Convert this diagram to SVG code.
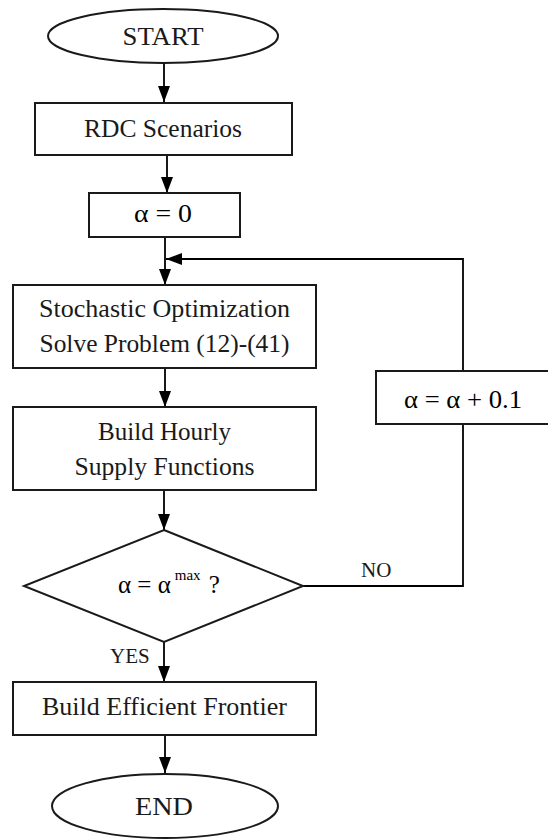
<svg xmlns="http://www.w3.org/2000/svg" width="548" height="840" viewBox="0 0 548 840">
<defs>
<marker id="arr" markerUnits="userSpaceOnUse" markerWidth="16" markerHeight="12" refX="16" refY="6" orient="auto">
<path d="M0,0 L16,6 L0,12 z" fill="#000"/>
</marker>
<style>
.shape{fill:#fff;stroke:#1a1a1a;stroke-width:2}
.edge{fill:none;stroke:#000;stroke-width:1.8}
text{font-family:'Liberation Serif','DejaVu Serif','Times New Roman',serif}
.t{font-size:25px;fill:#1a1a1a;text-anchor:middle}
.m{font-size:25px;fill:#000;text-anchor:middle}
.lbl{font-size:21px;fill:#1a1a1a}
</style>
</defs>
<rect width="548" height="840" fill="#fff"/>
<g id="connectors">
<line class="edge" x1="164" y1="63" x2="164" y2="102" marker-end="url(#arr)"/>
<line class="edge" x1="167" y1="155" x2="167" y2="193" marker-end="url(#arr)"/>
<line class="edge" x1="165" y1="237" x2="165" y2="285" marker-end="url(#arr)"/>
<line class="edge" x1="165" y1="368" x2="165" y2="407" marker-end="url(#arr)"/>
<line class="edge" x1="164" y1="490" x2="164" y2="530" marker-end="url(#arr)"/>
<line class="edge" x1="164" y1="642" x2="164" y2="682" marker-end="url(#arr)"/>
<line class="edge" x1="165" y1="735" x2="165" y2="773" marker-end="url(#arr)"/>
<polyline class="edge" points="303,586 463,586 463,424"/>
<polyline class="edge" points="463,371 463,259 166,259" marker-end="url(#arr)"/>
<text class="lbl" x="361" y="577" font-family="Liberation Serif, serif">NO</text>
<text class="lbl" x="110" y="663" font-family="Liberation Serif, serif">YES</text>
</g>
<g id="start">
<ellipse class="shape" cx="163" cy="36" rx="115" ry="27"/>
<text class="t" x="163" y="45" font-family="Liberation Serif, serif" textLength="81" lengthAdjust="spacingAndGlyphs">START</text>
</g>
<g id="rdc">
<rect class="shape" x="35" y="103" width="257" height="52"/>
<text class="t" x="163" y="137" font-family="Liberation Serif, serif" textLength="158" lengthAdjust="spacingAndGlyphs">RDC Scenarios</text>
</g>
<g id="alpha0">
<rect class="shape" x="89" y="193" width="151" height="44"/>
<text class="m" x="163" y="222" font-family="Liberation Serif, serif" textLength="58" lengthAdjust="spacingAndGlyphs">α = 0</text>
</g>
<g id="stochastic">
<rect class="shape" x="13" y="285" width="303" height="83"/>
<text class="t" x="164.5" y="317" font-family="Liberation Serif, serif" textLength="251" lengthAdjust="spacingAndGlyphs">Stochastic Optimization</text>
<text class="t" x="164.5" y="352" font-family="Liberation Serif, serif" textLength="250" lengthAdjust="spacingAndGlyphs">Solve Problem (12)-(41)</text>
</g>
<g id="hourly">
<rect class="shape" x="13" y="407" width="303" height="83"/>
<text class="t" x="164.5" y="440" font-family="Liberation Serif, serif" textLength="133" lengthAdjust="spacingAndGlyphs">Build Hourly</text>
<text class="t" x="164.5" y="475" font-family="Liberation Serif, serif" textLength="180" lengthAdjust="spacingAndGlyphs">Supply Functions</text>
</g>
<g id="decision">
<polygon class="shape" points="164,530 303,586 164,642 24,586"/>
<text class="m" x="118" y="593" font-family="Liberation Serif, serif" style="text-anchor:start">α = α<tspan font-size="15" dy="-13" dx="4">max</tspan><tspan dy="13" dx="8">?</tspan></text>
</g>
<g id="increment">
<rect class="shape" x="376" y="371" width="175" height="53"/>
<text class="m" x="463" y="408" font-family="Liberation Serif, serif" textLength="118" lengthAdjust="spacingAndGlyphs">α = α + 0.1</text>
</g>
<g id="frontier">
<rect class="shape" x="13" y="682" width="303" height="53"/>
<text class="t" x="164.5" y="715" font-family="Liberation Serif, serif" textLength="245" lengthAdjust="spacingAndGlyphs">Build Efficient Frontier</text>
</g>
<g id="end">
<ellipse class="shape" cx="165" cy="806" rx="113" ry="32"/>
<text class="t" x="164" y="815" font-family="Liberation Serif, serif" textLength="58" lengthAdjust="spacingAndGlyphs">END</text>
</g>
</svg>
